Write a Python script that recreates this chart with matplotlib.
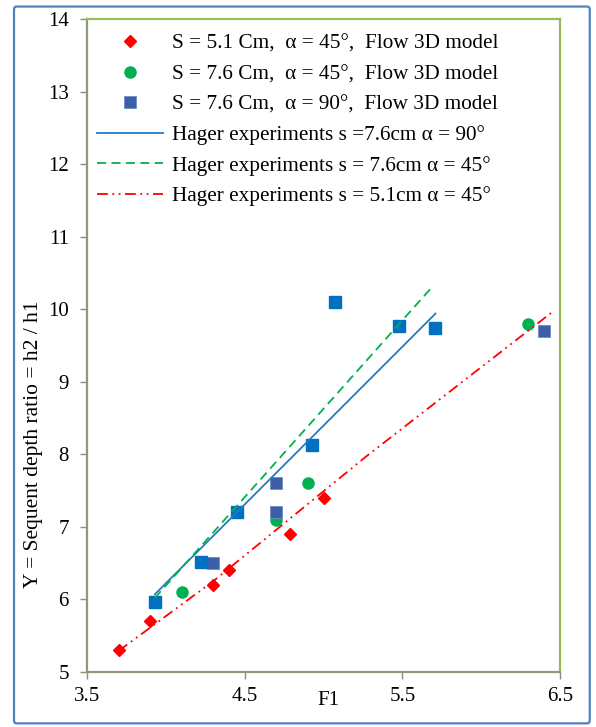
import matplotlib.pyplot as plt
from matplotlib.patches import FancyBboxPatch

plt.rcParams['font.family'] = ['Liberation Serif', 'DejaVu Serif']

# Flow 3D model results
f1_s51_a45 = [3.70, 3.90, 4.30, 4.40, 4.79, 5.00]
y_s51_a45 = [5.30, 5.70, 6.20, 6.40, 6.90, 7.40]

f1_s76_a45 = [4.10, 4.70, 4.90, 6.30]
y_s76_a45 = [6.10, 7.10, 7.60, 9.80]

f1_s76_a90 = [4.30, 4.70, 4.70, 6.40]
y_s76_a90 = [6.50, 7.20, 7.60, 9.70]

# extra squares (no legend entry)
f1_s76_a90_b = [3.93, 4.22, 4.45, 4.93, 5.07, 5.48, 5.71]
y_s76_a90_b = [5.97, 6.52, 7.20, 8.13, 10.10, 9.77, 9.74]

# Hager experiments
f1_hager_90 = [3.93, 5.71]
y_hager_90 = [6.07, 9.94]

f1_hager_76 = [3.93, 5.69]
y_hager_76 = [6.02, 10.31]

f1_hager_51 = [3.70, 4.30, 5.27, 6.45]
y_hager_51 = [5.29, 6.25, 7.97, 9.96]

fig = plt.figure(figsize=(5.96, 7.27), dpi=100)
ax = fig.add_axes([0.146, 0.0757, 0.7936, 0.898])

# outer frame
frame = FancyBboxPatch((0.0235, 0.005), 0.966, 0.986, boxstyle='round,pad=0,rounding_size=0.004',
                       transform=fig.transFigure, fill=False, edgecolor='#4F81BD', linewidth=1.6)
fig.patches.append(frame)

ax.plot(f1_s51_a45, y_s51_a45, 'D', color='#FF0000', markersize=6, linestyle='none',
        label='S = 5.1 Cm,  α = 45°,  Flow 3D model')
ax.plot(f1_s76_a45, y_s76_a45, 'o', color='#00B050', markersize=8, linestyle='none',
        label='S = 7.6 Cm,  α = 45°,  Flow 3D model')
ax.plot(f1_s76_a90, y_s76_a90, 's', color='#3C5FA8', markeredgecolor='#6F8CC4', markeredgewidth=0.6,
        markersize=8.5, linestyle='none', label='S = 7.6 Cm,  α = 90°,  Flow 3D model')
ax.plot(f1_s76_a90_b, y_s76_a90_b, 's', color='#0070C0', markersize=8, linestyle='none')

ax.plot(f1_hager_90, y_hager_90, '-', color='#1F7BC8', linewidth=1.3,
        label='Hager experiments s =7.6cm α = 90°')
ax.plot(f1_hager_76, y_hager_76, color='#00B050', linewidth=1.3, dashes=(5, 3),
        label='Hager experiments s = 7.6cm α = 45°')
ax.plot(f1_hager_51, y_hager_51, color='#FF0000', linewidth=1.3, dashes=(6, 2.5, 1, 2.5, 1, 2.5),
        label='Hager experiments s = 5.1cm α = 45°')

ax.set_xlim(3.5, 6.5)
ax.set_ylim(5, 14)
ax.set_xticks([3.5, 4.5, 5.5, 6.5])
ax.set_yticks(range(5, 15))
ax.tick_params(axis='both', direction='out', length=5, width=1, color='#8C8C8C', labelsize=15)
ax.tick_params(axis='x', pad=6)
ax.tick_params(axis='y', pad=8)

for side in ['top', 'right']:
    ax.spines[side].set_color('#9BBB59')
    ax.spines[side].set_linewidth(1.6)
for side in ['left', 'bottom']:
    ax.spines[side].set_color('#8F9B78')
    ax.spines[side].set_linewidth(1.6)

ax.set_xlabel('F1', fontsize=15, va='center')
ax.xaxis.set_label_coords(0.5095, -0.043)

fig.text(0.057, 1 - 588 / 727, 'Y = Sequent depth ratio = h2 / h1', fontsize=15.5,
         rotation=90, ha='center', va='bottom')

ax.legend(loc='upper left', bbox_to_anchor=(0.0076, 0.9874), frameon=False, fontsize=15.3,
          handlelength=3.1, handletextpad=0.42, labelspacing=0.5, borderaxespad=0, borderpad=0.3)

fig.savefig('out.png', dpi=100)
